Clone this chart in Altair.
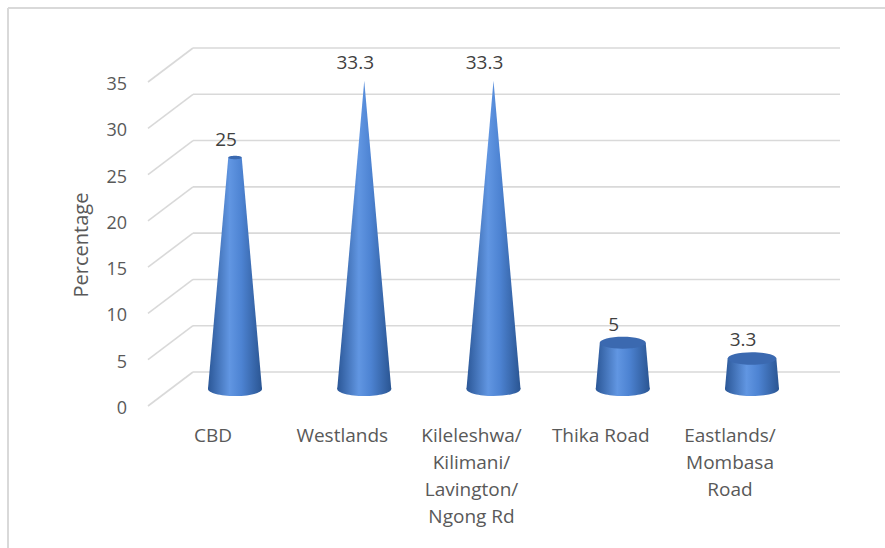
import altair as alt
import pandas as pd

# ---- data ----
categories = ["CBD", "Westlands", "Kileleshwa/Kilimani/Lavington/Ngong Rd", "Thika Road", "Eastlands/Mombasa Road"]
axis_labels = ["CBD", "Westlands", "Kileleshwa/\nKilimani/\nLavington/\nNgong Rd", "Thika Road", "Eastlands/\nMombasa\nRoad"]
values = [25, 33.3, 33.3, 5, 3.3]
y_ticks = [0, 5, 10, 15, 20, 25, 30, 35]
y_title = "Percentage"

# ---- styling / geometry constants ----
H = max(values)          # full cone height (apex)
BASE_R = 0.209           # cone base half width, in category units
BASE_R_PX = 27           # same, in pixels (for the ellipse caps)
DEPTH = 17               # half depth of the 3D wall, in pixels
FONT = "Open Sans"
TXT = "#595959"
GRID = "#d9d9d9"

cat_df = pd.DataFrame({"cat": categories, "label": axis_labels, "value": values,
                       "idx": list(range(len(categories)))})
cat_df["base_size"] = (2 * BASE_R_PX) ** 2
cat_df["top_size"] = [(2 * BASE_R_PX * (1 - v / H)) ** 2 for v in values]

rows = []
for i, (c, v) in enumerate(zip(categories, values)):
    for lev in (0.0, v):
        r = BASE_R * (1 - lev / H)
        rows.append({"cat": c, "idx": i, "level": lev, "xl": i - r, "xr": i + r})
cone_df = pd.DataFrame(rows)
tick_df = pd.DataFrame({"tick": y_ticks})

yscale = alt.Scale(domain=[0, 35], range=[389, 65], nice=False, zero=False)
xscale = alt.Scale(domain=[0, len(categories) - 1], range=[235, 752], nice=False, zero=False)

grad = alt.Gradient(
    gradient="linear", x1=0, x2=1, y1=0, y2=0,
    stops=[
        alt.GradientStop(offset=0, color="#2b5797"),
        alt.GradientStop(offset=0.4, color="#6196e2"),
        alt.GradientStop(offset=0.62, color="#4d83d2"),
        alt.GradientStop(offset=1, color="#2a5592"),
    ],
)
ELLIPSE = "M -1 0 A 1 0.26 0 1 0 1 0 A 1 0.26 0 1 0 -1 0 Z"

Y = lambda f: alt.Y(f, scale=yscale, axis=None)
X = lambda f: alt.X(f, scale=xscale, axis=None)

# back wall gridlines
back = alt.Chart(tick_df).mark_rule(color=GRID, strokeWidth=1.6, yOffset=-DEPTH).encode(
    y=Y("tick:Q"), x=alt.value(193), x2=alt.value(840))
# side diagonal lines
diag = alt.Chart(tick_df).mark_rule(color=GRID, strokeWidth=1.6, yOffset=DEPTH, y2Offset=-DEPTH).encode(
    y=Y("tick:Q"), y2="tick:Q", x=alt.value(148), x2=alt.value(193))
# tick labels
ticklab = alt.Chart(tick_df).mark_text(align="right", baseline="middle", font=FONT, fontSize=18,
                                       color=TXT, yOffset=DEPTH + 3).encode(
    y=Y("tick:Q"), x=alt.value(127), text=alt.Text("tick:Q"))
# outer border
border_l = alt.Chart(tick_df.head(1)).mark_rule(color=GRID, strokeWidth=2).encode(
    x=alt.value(8), y=alt.value(8), y2=alt.value(548))
border_t = alt.Chart(tick_df.head(1)).mark_rule(color=GRID, strokeWidth=2).encode(
    y=alt.value(8), x=alt.value(8), x2=alt.value(885))

# cones
base_ell = alt.Chart(cat_df).mark_point(filled=True, shape=ELLIPSE, color=grad, opacity=1).encode(
    x=X("idx:Q"), y=alt.Y("zero:Q", scale=yscale, axis=None),
    size=alt.Size("base_size:Q", scale=None)).transform_calculate(zero="0")
body = alt.Chart(cone_df).mark_area(orient="horizontal", color=grad).encode(
    y=Y("level:Q"), x=X("xl:Q"), x2="xr:Q", detail="cat:N")
top_ell = alt.Chart(cat_df).transform_filter(f"datum.value < {H}").mark_point(
    filled=True, shape=ELLIPSE, color="#3b69b0", opacity=1).encode(
    x=X("idx:Q"), y=Y("value:Q"), size=alt.Size("top_size:Q", scale=None))

# data labels
vlab = alt.Chart(cat_df).mark_text(baseline="middle", font=FONT, fontSize=19, color="#404040",
                                   xOffset=-9, yOffset=-18).encode(
    x=X("idx:Q"), y=Y("value:Q"), text=alt.Text("value:Q", format="~g"))
# category labels
clab = alt.Chart(cat_df).mark_text(baseline="top", align="center", font=FONT, fontSize=19, color=TXT,
                                   lineBreak="\n", lineHeight=27, xOffset=-22).encode(
    x=X("idx:Q"), y=alt.value(427), text="label:N")
# axis title
title = alt.Chart(tick_df.head(1)).mark_text(angle=270, baseline="middle", align="center", font=FONT,
                                             fontSize=20, color=TXT).encode(
    x=alt.value(82), y=alt.value(245), text=alt.value(y_title))

chart = alt.layer(back, diag, ticklab, border_l, border_t, base_ell, body, top_ell, vlab, clab, title).properties(
    width=885, height=548, autosize=alt.AutoSizeParams(type="none"), padding=0,
    background="white",
).configure_view(strokeWidth=0)

chart.save("out.html", embed_options={"renderer": "svg", "actions": False})
